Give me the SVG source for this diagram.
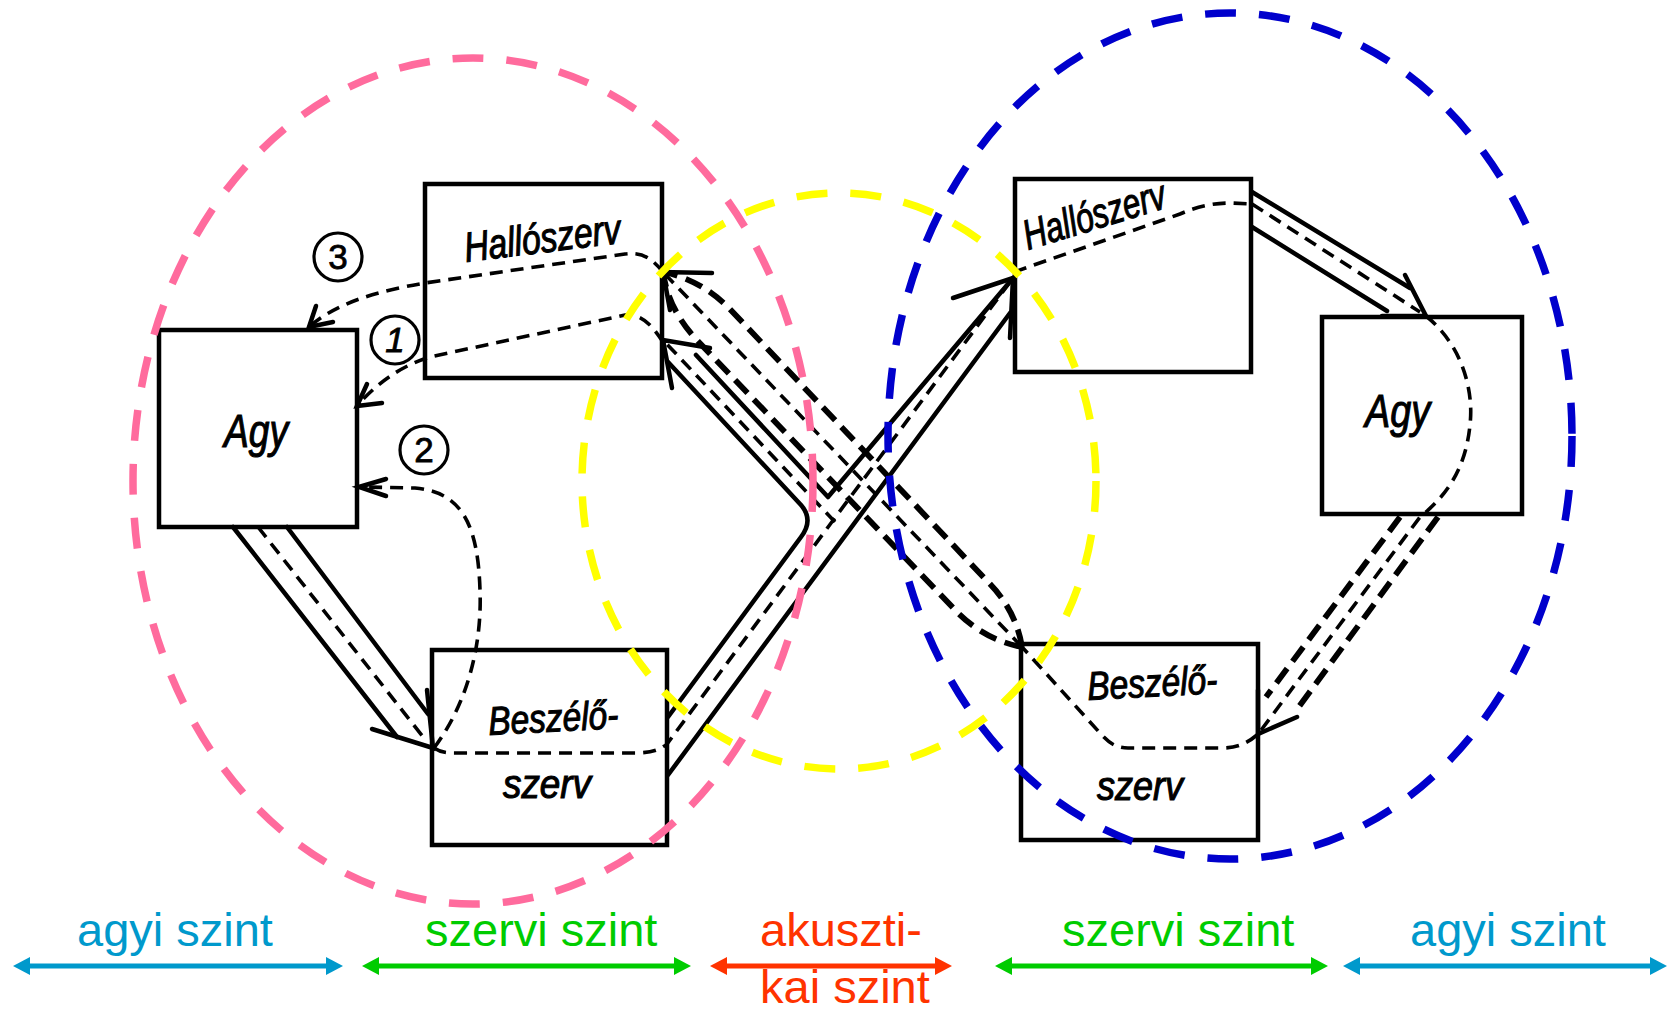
<svg xmlns="http://www.w3.org/2000/svg" width="1668" height="1011" viewBox="0 0 1668 1011">
  <defs>
    <style>
      .box{fill:none;stroke:#000;stroke-width:4.5}
      .lbl{font-family:"Liberation Sans",Arial,sans-serif;font-style:italic;fill:#000;stroke:#000;stroke-width:1.1}
      .solid{fill:none;stroke:#000;stroke-width:4.5;stroke-linecap:round;stroke-linejoin:round}
      .dash{fill:none;stroke:#000;stroke-width:3.6;stroke-dasharray:13 8}
      .dashb{fill:none;stroke:#000;stroke-width:5.8;stroke-dasharray:18 9}
      .head{fill:none;stroke:#000;stroke-width:4.5;stroke-linecap:round;stroke-linejoin:miter}
      .num circle{fill:none;stroke:#000;stroke-width:3.2}
      .num text{font-family:"Liberation Sans",Arial,sans-serif;font-size:35px;text-anchor:middle;fill:#000;stroke:#000;stroke-width:0.8}
      .zone{fill:none;stroke-width:7.5;stroke-dasharray:31 23}
      .lvl text{font-family:"Liberation Sans",Arial,sans-serif;font-size:47px}
      .lvl line{stroke-width:5}
    </style>
    <marker id="hBlue" markerUnits="userSpaceOnUse" viewBox="0 0 17 18" markerWidth="17" markerHeight="18" refX="1" refY="9" orient="auto-start-reverse"><path d="M0,0 L17,9 L0,18 z" fill="#0099cc"/></marker>
    <marker id="hGreen" markerUnits="userSpaceOnUse" viewBox="0 0 17 18" markerWidth="17" markerHeight="18" refX="1" refY="9" orient="auto-start-reverse"><path d="M0,0 L17,9 L0,18 z" fill="#00cc00"/></marker>
    <marker id="hRed" markerUnits="userSpaceOnUse" viewBox="0 0 17 18" markerWidth="17" markerHeight="18" refX="1" refY="9" orient="auto-start-reverse"><path d="M0,0 L17,9 L0,18 z" fill="#ff3300"/></marker>
  </defs>

  <!-- speaker A -->
  <g id="agy-a">
    <rect class="box" x="159" y="330" width="198" height="197"/>
    <text class="lbl" x="224" y="447" font-size="46" textLength="64" lengthAdjust="spacingAndGlyphs">Agy</text>
  </g>
  <g id="hallo-a">
    <rect class="box" x="425" y="184" width="237" height="194"/>
    <text class="lbl" x="466" y="262" font-size="42" textLength="157" lengthAdjust="spacingAndGlyphs" transform="rotate(-7 466 262)">Hallószerv</text>
  </g>
  <g id="beszelo-a">
    <rect class="box" x="432" y="650" width="235" height="195"/>
    <text class="lbl" x="489" y="735" font-size="40" textLength="130" lengthAdjust="spacingAndGlyphs" transform="rotate(-3 489 735)">Beszélő-</text>
    <text class="lbl" x="503" y="798" font-size="40" textLength="88" lengthAdjust="spacingAndGlyphs">szerv</text>
  </g>

  <!-- speaker B -->
  <g id="hallo-b">
    <rect class="box" x="1015" y="179" width="236" height="193"/>
    <text class="lbl" x="1028" y="250" font-size="42" textLength="147" lengthAdjust="spacingAndGlyphs" transform="rotate(-17 1028 250)">Hallószerv</text>
  </g>
  <g id="agy-b">
    <rect class="box" x="1322" y="317" width="200" height="197"/>
    <text class="lbl" x="1365" y="427" font-size="46" textLength="65" lengthAdjust="spacingAndGlyphs">Agy</text>
  </g>
  <g id="beszelo-b">
    <rect class="box" x="1021" y="644" width="237" height="196"/>
    <text class="lbl" x="1088" y="700" font-size="40" textLength="130" lengthAdjust="spacingAndGlyphs" transform="rotate(-3 1088 700)">Beszélő-</text>
    <text class="lbl" x="1097" y="800" font-size="40" textLength="86" lengthAdjust="spacingAndGlyphs">szerv</text>
  </g>

  <g id="connectors">
    <!-- brain A to speech organ A -->
    <path class="solid" d="M233,527 L397,737"/>
    <path class="solid" d="M287,527 L428,714"/>
    <path class="dash" d="M258,527 L424,738"/>
    <path class="head" d="M372,729 L433,748 L427,690"/>

    <!-- loop 2: speech organ back to brain -->
    <path class="dash" d="M434,748 C470,700 482,640 480,590 C478,530 465,492 415,488 L362,487"/>
    <path class="head" d="M386,479 L359,487 L386,496"/>

    <!-- speech organ A: sound out -->
    <path class="dash" d="M434,748 C440,752 445,753 455,753 L635,753 C650,753 660,750 667,744 L1013,278"/>
    <path class="solid" d="M668,717 L801,537 Q814,520 801,505 L668,362"/>
    <path class="solid" d="M696,355 L828,497 L1013,278"/>
    <path class="solid" d="M668,775 L1010,313"/>
    <path class="head" d="M953,298 L1013,278 L1010,338"/>
    <path class="dash" d="M835,522 L663,340"/>
    <path class="head" d="M710,348 L663,340 L672,388"/>

    <!-- loop 1: own hearing organ to brain -->
    <path class="dash" d="M663,342 C650,322 640,314 625,315 L430,357 C400,366 375,385 357,406"/>
    <path class="head" d="M382,403 L357,406 L367,384"/>

    <!-- loop 3: partner's speech reaching hearing organ A -->
    <path class="dash" d="M663,272 C650,256 640,252 625,254 L425,283 C385,290 340,300 309,327"/>
    <path class="head" d="M333,322 L309,327 L316,306"/>
    <path class="head" d="M712,273 L663,272 L670,310"/>

    <!-- speech organ B to hearing organ A -->
    <path class="dashb" d="M1022,647 Q1016,610 988,582 L728,307 Q699,279 663,272"/>
    <path class="dash" d="M1022,647 L663,272"/>
    <path class="dashb" d="M1022,647 Q985,640 957,612 L695,338 Q668,308 663,272"/>

    <!-- hearing organ B to brain B -->
    <path class="dash" d="M1014,272 L1180,214 Q1205,203 1230,203 L1252,204"/>
    <path class="solid" d="M1252,192 L1410,288"/>
    <path class="solid" d="M1252,227 L1387,311"/>
    <path class="dash" d="M1252,204 L1420,312"/>
    <path class="head" d="M1405,275 L1426,316 L1382,316"/>

    <!-- brain B to speech organ B -->
    <path class="dash" d="M1426,316 C1462,345 1474,390 1470,425 C1466,465 1450,493 1420,517 L1259,733"/>
    <path class="dashb" d="M1400,517 L1266,697"/>
    <path class="dashb" d="M1438,517 L1295,712"/>
    <path class="head" d="M1297,717 L1258,734 L1258,690"/>
    <path class="dash" d="M1257,735 C1245,745 1235,748 1222,748 L1128,748 C1115,748 1108,742 1100,733 L1022,647"/>
  </g>

  <g id="loop-numbers" class="num">
    <circle cx="338" cy="257" r="24"/>
    <text x="338" y="269">3</text>
    <circle cx="395" cy="340" r="24"/>
    <text x="395" y="352" font-style="italic">1</text>
    <circle cx="424" cy="450" r="24"/>
    <text x="424" y="462">2</text>
  </g>

  <g id="zones">
    <ellipse class="zone" stroke="#ff6b9d" cx="473" cy="481" rx="340" ry="423"/>
    <ellipse class="zone" stroke="#ffff00" cx="839" cy="481" rx="257" ry="288"/>
    <ellipse class="zone" stroke="#0000cc" cx="1230" cy="436" rx="342" ry="423"/>
  </g>

  <g id="levels" class="lvl">
    <line x1="29" y1="966" x2="327" y2="966" stroke="#0099cc" marker-start="url(#hBlue)" marker-end="url(#hBlue)"/>
    <text x="77" y="946" fill="#0099cc">agyi szint</text>
    <line x1="378" y1="966" x2="675" y2="966" stroke="#00cc00" marker-start="url(#hGreen)" marker-end="url(#hGreen)"/>
    <text x="425" y="946" fill="#00cc00">szervi szint</text>
    <line x1="726" y1="966" x2="936" y2="966" stroke="#ff3300" marker-start="url(#hRed)" marker-end="url(#hRed)"/>
    <text x="760" y="946" fill="#ff3300">akuszti-</text>
    <text x="760" y="1003" fill="#ff3300">kai szint</text>
    <line x1="1011" y1="966" x2="1312" y2="966" stroke="#00cc00" marker-start="url(#hGreen)" marker-end="url(#hGreen)"/>
    <text x="1062" y="946" fill="#00cc00">szervi szint</text>
    <line x1="1359" y1="966" x2="1651" y2="966" stroke="#0099cc" marker-start="url(#hBlue)" marker-end="url(#hBlue)"/>
    <text x="1410" y="946" fill="#0099cc">agyi szint</text>
  </g>
</svg>
